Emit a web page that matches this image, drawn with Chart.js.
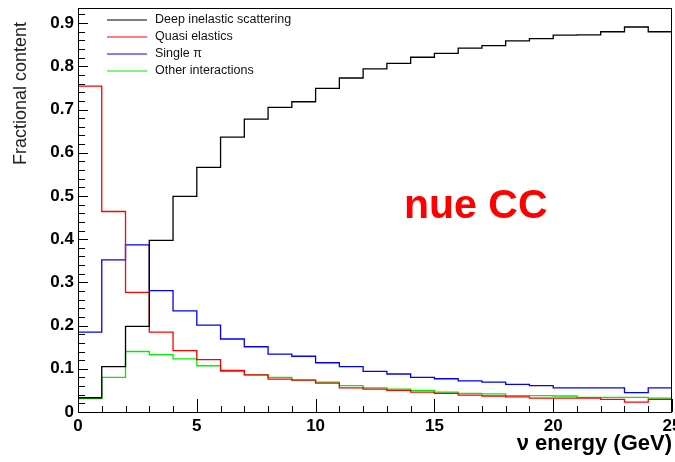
<!DOCTYPE html>
<html>
<head>
<meta charset="utf-8">
<title>Fractional content vs neutrino energy</title>
<script src="https://cdn.jsdelivr.net/npm/chart.js@4.4.1/dist/chart.umd.min.js"></script>
<style>
    html, body { margin: 0; padding: 0; background: #fff; }
    #wrap { width: 675px; height: 462px; }
</style>
</head>
<body>
<div id="wrap"><canvas id="myChart" width="675" height="462"></canvas></div>
<script>
// bin low edges (GeV), 1 GeV wide bins
const binEdges = [0, 1, 2, 3, 4, 5, 6, 7, 8, 9, 10, 11, 12, 13, 14, 15, 16, 17, 18, 19, 20, 21, 22, 23, 24];
const xMax = 25;

const deepInelastic = [0.033, 0.105, 0.198, 0.397, 0.499, 0.566, 0.636, 0.678, 0.705, 0.718, 0.749, 0.773, 0.794,
    0.807, 0.821, 0.830, 0.842, 0.848, 0.859, 0.864, 0.872, 0.873, 0.880, 0.891, 0.880];
const quasiElastic = [0.754, 0.464, 0.277, 0.185, 0.142, 0.121, 0.096, 0.086, 0.076, 0.074, 0.067, 0.056, 0.053,
    0.050, 0.046, 0.043, 0.039, 0.037, 0.035, 0.032, 0.032, 0.032, 0.029, 0.023, 0.029];
const singlePi = [0.185, 0.352, 0.387, 0.281, 0.234, 0.201, 0.169, 0.151, 0.134, 0.129, 0.114, 0.105, 0.094,
    0.088, 0.080, 0.077, 0.072, 0.069, 0.064, 0.061, 0.056, 0.056, 0.056, 0.045, 0.056];
const otherInt = [0.031, 0.080, 0.140, 0.133, 0.123, 0.107, 0.094, 0.086, 0.080, 0.074, 0.069, 0.061, 0.056,
    0.053, 0.050, 0.046, 0.043, 0.042, 0.038, 0.038, 0.037, 0.034, 0.034, 0.034, 0.032];

const xTickValues = [0, 5, 10, 15, 20, 25];
const yTickValues = [0, 0.1, 0.2, 0.3, 0.4, 0.5, 0.6, 0.7, 0.8, 0.9];
const yMax = 0.935;

const seriesNames = ['Deep inelastic scattering', 'Quasi elastics', 'Single \u03c0', 'Other interactions'];
const seriesColors = ['#000000', '#ff0000', '#0000ff', '#00ee00'];

// histogram as step line: value of bin i from edge i to edge i+1
function histPoints(values) {
    const pts = binEdges.map((e, i) => ({ x: e, y: values[i] }));
    pts.push({ x: xMax, y: values[values.length - 1] });
    return pts;
}

const FONT = "'Liberation Sans', Arial, Helvetica, sans-serif";

// frame, inward tick marks, legend, titles
const rootStyle = {
    id: 'rootStyle',
    afterDatasetsDraw(chart) {
        const ctx = chart.ctx;
        const a = chart.chartArea;
        const xs = chart.scales.x;
        const ys = chart.scales.y;
        ctx.save();
        ctx.strokeStyle = '#000';
        ctx.lineWidth = 1;
        ctx.strokeRect(Math.round(a.left) + 0.5, Math.round(a.top) + 0.5,
            Math.round(a.right - a.left) - 1, Math.round(a.bottom - a.top));

        ctx.beginPath();
        for (let v = 0; v <= xMax; v++) {
            const px = Math.round(xs.getPixelForValue(v)) + 0.5;
            const len = v % 5 === 0 ? 13 : 6;
            ctx.moveTo(px, a.bottom);
            ctx.lineTo(px, a.bottom - len);
        }
        for (let k = 0; k * 0.02 <= yMax; k++) {
            const py = Math.round(ys.getPixelForValue(k * 0.02)) + 0.5;
            const len = k % 5 === 0 ? 10 : 7;
            ctx.moveTo(a.left, py);
            ctx.lineTo(a.left + len, py);
        }
        ctx.stroke();

        // legend
        ctx.font = '12.5px ' + FONT;
        ctx.textBaseline = 'middle';
        ctx.textAlign = 'left';
        chart.data.datasets.forEach((ds, i) => {
            const y = 20 + i * 17;
            ctx.strokeStyle = ds.borderColor;
            ctx.lineWidth = 1.2;
            ctx.beginPath();
            ctx.moveTo(107, y);
            ctx.lineTo(147, y);
            ctx.stroke();
            ctx.fillStyle = '#111';
            ctx.fillText(ds.label, 155, y);
        });

        // axis titles
        ctx.fillStyle = '#000';
        ctx.font = 'bold 22px ' + FONT;
        ctx.textAlign = 'right';
        ctx.textBaseline = 'alphabetic';
        ctx.fillText('\u03bd energy (GeV)', 672, 450);

        ctx.save();
        ctx.translate(21, 22);
        ctx.rotate(-Math.PI / 2);
        ctx.font = '18px ' + FONT;
        ctx.fillStyle = '#222';
        ctx.textAlign = 'right';
        ctx.textBaseline = 'middle';
        ctx.fillText('Fractional content', 0, 0);
        ctx.restore();

        ctx.fillStyle = '#ff0000';
        ctx.font = 'bold 41px ' + FONT;
        ctx.textAlign = 'left';
        ctx.fillText('nue CC', 404, 218);
        ctx.restore();
    }
};

const ctx = document.getElementById('myChart').getContext('2d');
const myChart = new Chart(ctx, {
    type: 'line',
    data: {
        datasets: [deepInelastic, quasiElastic, singlePi, otherInt].map((vals, i) => ({
            label: seriesNames[i],
            data: histPoints(vals),
            borderColor: seriesColors[i],
            borderWidth: 1.3,
            stepped: true,
            pointRadius: 0,
            fill: false,
            tension: 0
        }))
    },
    options: {
        responsive: false,
        animation: false,
        layout: { padding: { top: 8, right: 3, left: 0, bottom: 0 } },
        plugins: {
            legend: { display: false },
            tooltip: { enabled: false }
        },
        scales: {
            x: {
                type: 'linear',
                min: 0,
                max: xMax,
                grid: { display: false, drawTicks: false },
                border: { display: false },
                afterBuildTicks: s => { s.ticks = xTickValues.map(v => ({ value: v })); },
                afterFit: s => { s.height = 50; s.paddingLeft = 0; s.paddingRight = 0; },
                ticks: {
                    padding: 4,
                    color: '#000',
                    font: { family: FONT, size: 17, weight: 'bold' },
                    maxRotation: 0,
                    callback: v => String(v)
                }
            },
            y: {
                min: 0,
                max: yMax,
                grid: { display: false, drawTicks: false },
                border: { display: false },
                afterBuildTicks: s => { s.ticks = yTickValues.map(v => ({ value: v })); },
                afterFit: s => { s.width = 78; s.paddingTop = 0; s.paddingBottom = 0; },
                ticks: {
                    padding: 4,
                    color: '#000',
                    font: { family: FONT, size: 17, weight: 'bold' },
                    callback: v => String(Math.round(v * 10) / 10)
                }
            }
        }
    },
    plugins: [rootStyle]
});
</script>
</body>
</html>
